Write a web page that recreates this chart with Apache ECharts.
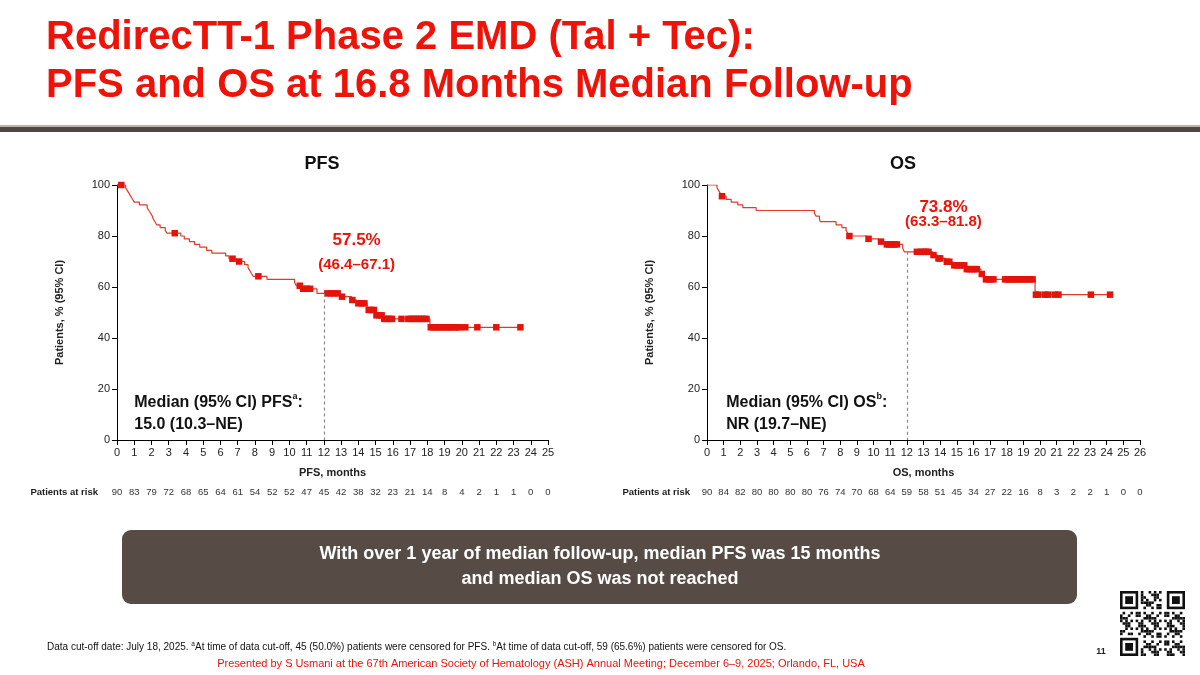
<!DOCTYPE html>
<html><head><meta charset="utf-8">
<script src="https://cdn.jsdelivr.net/npm/echarts@6/dist/echarts.min.js"></script>
<style>html,body{margin:0;padding:0;background:#fff}#c{width:1200px;height:675px}</style>
</head><body><div id="c"></div>
<script>
// ---------- DATA ----------
const pfsTicks = Array.from({length:26},(_,i)=>i);
const osTicks = Array.from({length:27},(_,i)=>i);
const yTicks = [0,20,40,60,80,100];
const pfsAtRisk = [90,83,79,72,68,65,64,61,54,52,52,47,45,42,38,32,23,21,14,8,4,2,1,1,0,0];
const osAtRisk  = [90,84,82,80,80,80,80,76,74,70,68,64,59,58,51,45,34,27,22,16,8,3,2,2,1,0,0];

// KM steps: [month, survival % after event]
const pfsEvents = [[0,100],[0.5,98.9],[0.6,97.8],[0.7,96.7],[0.8,95.6],[0.9,94.4],[1.0,93.3],[1.3,92.2],
 [1.75,91.1],[1.85,90.0],[1.95,88.9],[2.05,87.8],[2.1,86.7],[2.2,85.6],[2.3,84.4],[2.5,83.3],[2.8,82.2],[2.9,81.1],
 [3.7,80.0],[3.9,78.9],[4.2,77.8],[4.5,76.7],[4.8,75.6],[5.2,74.4],[5.5,73.3],[6.3,72.2],[6.5,71.1],[6.9,70.0],
 [7.4,68.8],[7.6,67.6],[7.7,66.5],[7.8,65.3],[7.9,64.2],[8.7,63.0],[10.3,61.8],[10.4,60.5],[10.7,59.3],[11.6,57.5],
 [12.95,56.2],[13.6,54.9],[13.9,53.6],[14.5,52.3],[14.55,51.0],[14.95,50.0],[15.0,48.9],[15.45,47.5],[18.15,44.2]];
const pfsCensored = [[0.25,100],[3.35,81.1],[6.7,71.1],[7.08,70.0],[8.2,64.2],[10.6,60.5],[10.8,59.3],[11.0,59.3],[11.2,59.3],
 [12.2,57.5],[12.4,57.5],[12.6,57.5],[12.8,57.5],[13.05,56.2],[13.65,54.9],[14.0,53.6],[14.2,53.6],[14.35,53.6],
 [14.6,51.0],[14.75,51.0],[14.9,51.0],[15.05,48.9],[15.2,48.9],[15.35,48.9],[15.5,47.5],[15.65,47.5],[15.8,47.5],[15.95,47.5],
 [16.5,47.5],[16.9,47.5],[17.05,47.5],[17.2,47.5],[17.35,47.5],[17.5,47.5],[17.65,47.5],[17.8,47.5],[17.95,47.5],
 [18.2,44.2],[18.35,44.2],[18.5,44.2],[18.65,44.2],[18.8,44.2],[18.95,44.2],[19.1,44.2],[19.25,44.2],[19.4,44.2],
 [19.55,44.2],[19.7,44.2],[19.85,44.2],[20.2,44.2],[20.9,44.2],[22.0,44.2],[23.4,44.2]];

const osEvents = [[0,100],[0.6,98.9],[0.7,97.8],[0.8,96.7],[0.85,95.6],[1.15,94.4],[1.45,93.3],[1.85,92.2],[2.15,91.1],
 [2.95,90.0],[6.45,88.9],[6.55,87.8],[6.75,86.7],[6.8,85.6],[7.75,84.4],[8.1,83.3],[8.35,82.2],[8.45,81.1],[8.5,80.0],
 [9.6,78.9],[10.3,77.8],[10.7,76.7],[11.75,75.2],[11.85,73.8],[13.55,72.5],[13.85,71.2],[14.35,69.9],[14.75,68.5],
 [15.5,67.0],[16.45,65.1],[16.65,63.0],[19.7,57.0]];
const osCensored = [[0.9,95.6],[8.55,80.0],[9.7,78.9],[10.45,77.8],[10.8,76.7],[10.95,76.7],[11.1,76.7],[11.25,76.7],[11.4,76.7],
 [12.6,73.8],[12.85,73.8],[13.0,73.8],[13.15,73.8],[13.3,73.8],[13.6,72.5],[13.9,71.2],[14.0,71.2],[14.4,69.9],[14.55,69.9],
 [14.85,68.5],[15.0,68.5],[15.15,68.5],[15.3,68.5],[15.45,68.5],[15.6,67.0],[15.75,67.0],[15.9,67.0],[16.05,67.0],[16.2,67.0],
 [16.5,65.1],[16.75,63.0],[16.9,63.0],[17.05,63.0],[17.2,63.0],[17.9,63.0],[18.05,63.0],[18.2,63.0],[18.35,63.0],[18.5,63.0],
 [18.65,63.0],[18.8,63.0],[18.95,63.0],[19.1,63.0],[19.25,63.0],[19.4,63.0],[19.55,63.0],[19.75,57.0],[19.9,57.0],
 [20.3,57.0],[20.5,57.0],[20.9,57.0],[21.1,57.0],[23.05,57.0],[24.2,57.0]];

const pfsLandmark = [12, 57.5];
const osLandmark = [12, 73.8];

// ---------- CHART ----------
const FONT = '"Liberation Sans", Arial, Helvetica, sans-serif';
const RED_LINE = '#e2392c', RED_MK = '#e3140c', RED_TXT = '#ee1208';

function curve(events, censored) {
  const last = censored[censored.length-1][0];
  const lastS = events[events.length-1][1];
  return events.concat([[last, lastS]]);
}

function xAxes(gi, max, atRisk, name) {
  return [{
    gridIndex: gi, type:'value', min:0, max:max, interval:1,
    name:name, nameLocation:'middle', nameGap:27,
    nameTextStyle:{fontFamily:FONT, fontWeight:'bold', fontSize:11, color:'#222'},
    axisLine:{onZero:false, lineStyle:{color:'#000', width:1}},
    axisTick:{length:5, lineStyle:{color:'#000'}},
    axisLabel:{fontFamily:FONT, fontSize:11, color:'#222', margin:7},
    splitLine:{show:false}
  },{
    gridIndex: gi, type:'value', min:0, max:max, interval:1, position:'bottom', offset:39,
    axisLine:{show:false}, axisTick:{show:false}, splitLine:{show:false},
    axisLabel:{fontFamily:FONT, fontSize:9.5, color:'#333', formatter:v=>atRisk[v]!==undefined?String(atRisk[v]):''}
  }];
}
function yAxis(gi) {
  return {
    gridIndex: gi, type:'value', min:0, max:100, interval:20,
    name:'Patients, % (95% CI)', nameLocation:'middle', nameGap:52,
    nameTextStyle:{fontFamily:FONT, fontWeight:'bold', fontSize:11, color:'#222'},
    axisLine:{show:true, lineStyle:{color:'#000', width:1}},
    axisTick:{show:true, length:5, lineStyle:{color:'#000'}},
    axisLabel:{fontFamily:FONT, fontSize:11, color:'#222', margin:7},
    splitLine:{show:false}
  };
}
function kmSeries(xi, yi, events, censored, landmark) {
  return [{
    type:'line', xAxisIndex:xi, yAxisIndex:yi, step:'end', showSymbol:false, symbol:'none',
    data: curve(events, censored), lineStyle:{color:RED_LINE, width:1.2}, z:3, silent:true,
    markLine:{silent:true, symbol:'none', label:{show:false},
      lineStyle:{color:'#888', type:[3,3], width:1.2},
      data:[[{coord:[landmark[0], landmark[1]]},{coord:[landmark[0], 0]}]]}
  },{
    type:'scatter', xAxisIndex:xi, yAxisIndex:yi, symbol:'rect', symbolSize:[6.5,6.5],
    data: censored, itemStyle:{color:RED_MK, opacity:1}, z:4, silent:true
  }];
}
function textSeries(xi, yi, items) {
  return {
    type:'scatter', xAxisIndex:xi, yAxisIndex:yi, symbolSize:0, silent:true, z:5,
    itemStyle:{opacity:1},
    data: items.map(it=>({value:[it.x,it.y], label:{show:true, position:'inside', align:it.align||'center',
      verticalAlign:'middle', formatter:it.text, fontFamily:FONT, fontWeight:'bold', fontSize:it.size,
      color:it.color, opacity:1, textBorderWidth:0, lineHeight:it.lh||it.size+4,
      rich:{m:{fontFamily:FONT, fontWeight:'bold', fontSize:it.size, color:it.color, lineHeight:21},
            s:{fontFamily:FONT, fontWeight:'bold', fontSize:9, color:it.color, lineHeight:21, verticalAlign:'top', padding:[0,0,6,0]}}}}))
  };
}

// QR-like decoration
function qrGraphic(x0, y0, n, cell) {
  const els = [];
  const finder = (cx, cy) => {
    els.push({type:'rect', shape:{x:x0+cx*cell, y:y0+cy*cell, width:7*cell, height:7*cell}, style:{fill:'#111'}});
    els.push({type:'rect', shape:{x:x0+(cx+1)*cell, y:y0+(cy+1)*cell, width:5*cell, height:5*cell}, style:{fill:'#fff'}});
    els.push({type:'rect', shape:{x:x0+(cx+2)*cell, y:y0+(cy+2)*cell, width:3*cell, height:3*cell}, style:{fill:'#111'}});
  };
  for (let i=0;i<n;i++) for (let j=0;j<n;j++) {
    const inF = (i<8&&j<8)||(i<8&&j>=n-8)||(i>=n-8&&j<8);
    if (inF) continue;
    if (((i*31 + j*17 + i*j*7) % 11) < 5)
      els.push({type:'rect', shape:{x:x0+j*cell, y:y0+i*cell, width:cell, height:cell}, style:{fill:'#111'}});
  }
  finder(0,0); finder(n-7,0); finder(0,n-7);
  return els;
}

const chart = echarts.init(document.getElementById('c'), null, {renderer:'canvas'});
const option = {
  backgroundColor:'#fff',
  animation:false,
  grid:[{left:117, top:185, width:431, height:255},{left:707, top:185, width:433, height:255}],
  xAxis:[...xAxes(0,25,pfsAtRisk,'PFS, months'), ...xAxes(1,26,osAtRisk,'OS, months')],
  yAxis:[yAxis(0), yAxis(1)],
  series:[
    ...kmSeries(0,0,pfsEvents,pfsCensored,pfsLandmark),
    ...kmSeries(2,1,osEvents,osCensored,osLandmark),
    textSeries(0,0,[
      {x:13.9, y:78.3, text:'57.5%', size:17, color:RED_TXT},
      {x:13.9, y:68.8, text:'(46.4–67.1)', size:15, color:RED_TXT},
      {x:1.0, y:14.6, text:'{m|Median (95% CI) PFS}{s|a}{m|:}', size:16, color:'#111', align:'left'},
      {x:1.0, y:6.0, text:'15.0 (10.3–NE)', size:16, color:'#111', align:'left'}
    ]),
    textSeries(2,1,[
      {x:14.2, y:91.4, text:'73.8%', size:17, color:RED_TXT},
      {x:14.2, y:85.4, text:'(63.3–81.8)', size:15, color:RED_TXT},
      {x:1.15, y:14.6, text:'{m|Median (95% CI) OS}{s|b}{m|:}', size:16, color:'#111', align:'left'},
      {x:1.15, y:6.0, text:'NR (19.7–NE)', size:16, color:'#111', align:'left'}
    ])
  ],
  graphic:[
    {type:'text', left:46, top:14, style:{text:'RedirecTT-1 Phase 2 EMD (Tal + Tec):\nPFS and OS at 16.8 Months Median Follow-up',
      font:'bold 40px '+FONT, fill:RED_TXT, lineHeight:48}},
    {type:'rect', shape:{x:0, y:125, width:1200, height:2}, style:{fill:'#b9b2ad'}},
    {type:'rect', shape:{x:0, y:127, width:1200, height:5}, style:{fill:'#514641'}},
    {type:'text', x:322, y:164, style:{text:'PFS', font:'bold 18px '+FONT, fill:'#111', align:'center', verticalAlign:'middle'}},
    {type:'text', x:903, y:164, style:{text:'OS', font:'bold 18px '+FONT, fill:'#111', align:'center', verticalAlign:'middle'}},
    {type:'text', x:98, y:492, style:{text:'Patients at risk', font:'bold 9.5px '+FONT, fill:'#222', align:'right', verticalAlign:'middle'}},
    {type:'text', x:690, y:492, style:{text:'Patients at risk', font:'bold 9.5px '+FONT, fill:'#222', align:'right', verticalAlign:'middle'}},
    {type:'rect', shape:{x:122, y:530, width:955, height:74, r:9}, style:{fill:'#564b45'}},
    {type:'text', x:600, y:567, style:{text:'With over 1 year of median follow-up, median PFS was 15 months\nand median OS was not reached',
      font:'bold 18px '+FONT, fill:'#fff', align:'center', verticalAlign:'middle', lineHeight:25}},
    {type:'text', x:47, y:647, style:{
      text:'{n|Data cut-off date: July 18, 2025. }{s|a}{n|At time of data cut-off, 45 (50.0%) patients were censored for PFS. }{s|b}{n|At time of data cut-off, 59 (65.6%) patients were censored for OS.}',
      verticalAlign:'middle',
      rich:{n:{font:'10px '+FONT, fill:'#111', lineHeight:12}, s:{font:'6.5px '+FONT, fill:'#111', lineHeight:12, verticalAlign:'top'}}}},
    {type:'text', x:541, y:664, style:{text:'Presented by S Usmani at the 67th American Society of Hematology (ASH) Annual Meeting; December 6–9, 2025; Orlando, FL, USA',
      font:'11px '+FONT, fill:RED_TXT, align:'center', verticalAlign:'middle'}},
    {type:'text', x:1101, y:652, style:{text:'11', font:'bold 9px '+FONT, fill:'#222', align:'center', verticalAlign:'middle'}},
    ...qrGraphic(1120, 591, 25, 2.6)
  ]
};
chart.setOption(option);
</script></body></html>
